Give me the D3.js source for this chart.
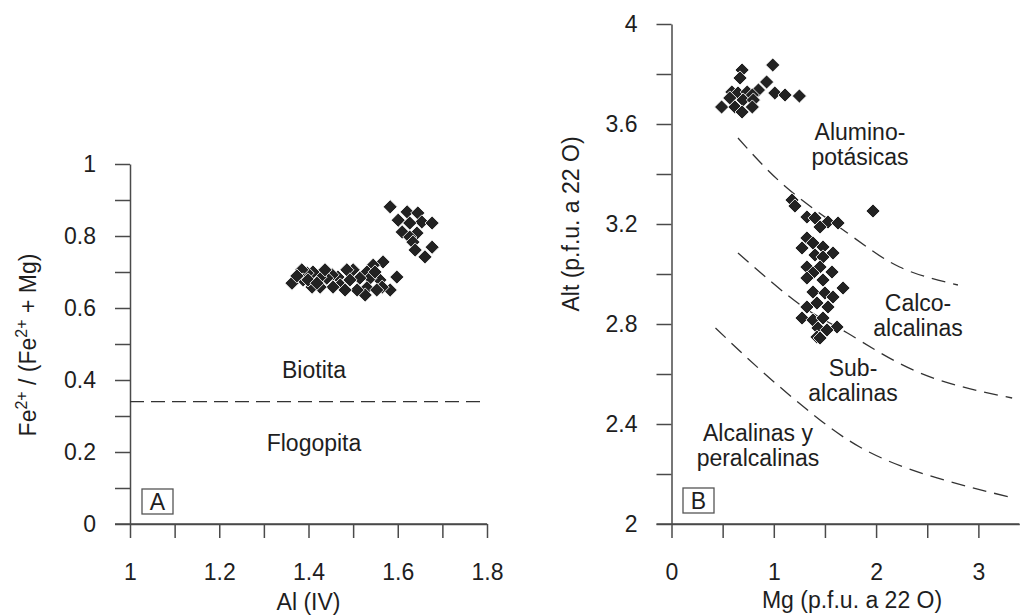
<!DOCTYPE html>
<html>
<head>
<meta charset="utf-8">
<script src="https://cdn.jsdelivr.net/npm/d3@7"></script>
<style>
  body { margin: 0; background: #fff; }
  svg text { font-family: "Liberation Sans", Arial, sans-serif; fill: #1e1e1e; }
</style>
</head>
<body>
<div id="chart"></div>
<script>
// Panel A : Al(IV) vs Fe2+/(Fe2+ + Mg)
const alIV = [1.583,1.621,1.645,1.601,1.654,1.677,1.627,1.610,1.643,1.627,1.634,1.677,1.639,1.661,
  1.567,1.545,1.531,1.500,1.486,1.466,1.453,1.441,1.426,1.410,1.397,1.385,1.598,1.560,1.538,1.515,
  1.493,1.471,1.531,1.583,1.565,1.553,1.527,1.509,1.482,1.455,1.426,1.408,1.388,1.399,1.419,1.363,
  1.374,1.437,1.549];
const feRatio = [0.881,0.867,0.864,0.844,0.839,0.836,0.836,0.811,0.808,0.797,0.783,0.769,0.761,0.742,
  0.728,0.719,0.700,0.706,0.706,0.686,0.692,0.683,0.686,0.700,0.697,0.706,0.686,0.678,0.683,0.683,
  0.678,0.664,0.656,0.650,0.658,0.650,0.636,0.650,0.650,0.658,0.658,0.658,0.678,0.678,0.669,0.669,
  0.689,0.706,0.700];
const biotitaLimit = 0.34;

// Panel B : Mg vs Alt
const mgB = [0.99,0.69,0.67,0.93,0.85,1.01,1.11,1.25,0.59,0.65,0.74,0.79,0.57,0.70,0.80,0.49,0.62,0.79,0.69,
  1.178,1.207,1.324,1.403,1.530,1.628,1.452,1.324,1.383,1.481,1.276,1.579,1.403,1.481,1.324,1.452,
  1.569,1.383,1.324,1.481,1.677,1.383,1.500,1.579,1.422,1.324,1.530,1.276,1.383,1.481,1.618,1.432,
  1.520,1.422,1.452,1.970];
const altB = [3.836,3.816,3.784,3.768,3.736,3.724,3.716,3.712,3.728,3.724,3.728,3.716,3.704,3.696,3.696,3.668,3.668,3.668,3.648,
  3.296,3.272,3.228,3.224,3.208,3.204,3.188,3.144,3.124,3.108,3.104,3.084,3.076,3.068,3.028,3.028,
  3.008,3.004,2.984,2.976,2.944,2.928,2.924,2.908,2.884,2.868,2.868,2.824,2.816,2.824,2.788,2.784,
  2.776,2.748,2.744,3.252];

// field boundaries (Mg, Alt)
const curveAlumino = [[0.65,3.544],[1.13,3.344],[1.72,3.164],[2.23,3.028],[2.80,2.956]];
const curveCalco = [[0.65,3.084],[1.26,2.876],[1.72,2.764],[2.43,2.604],[3.33,2.504]];
const curveAlcal = [[0.43,2.784],[0.87,2.616],[1.33,2.456],[1.84,2.308],[2.50,2.196],[3.34,2.104]];

const ticksA_x = d3.range(1, 1.801, 0.1), labelsA_x = [1, 1.2, 1.4, 1.6, 1.8];
const ticksA_y = d3.range(0, 1.001, 0.1), labelsA_y = [0, 0.2, 0.4, 0.6, 0.8, 1];
const ticksB_x = d3.range(0, 3.01, 0.5), labelsB_x = [0, 1, 2, 3];
const ticksB_y = d3.range(2, 4.001, 0.2), labelsB_y = [2, 2.4, 2.8, 3.2, 3.6, 4];

const W = 1020, H = 615;
const svg = d3.select("#chart").append("svg").attr("width", W).attr("height", H);

const axisColor = "#4a4a4a";
const fs = 23;

const drawAxes = (x, y, tx, ty, lx, ly) => {
  const near = (v, arr) => arr.some(a => Math.abs(a - v) < 1e-6);
  const xa = svg.append("g")
    .attr("transform", `translate(0,${y.range()[0]})`)
    .call(d3.axisBottom(x).tickValues(tx).tickSize(14).tickSizeOuter(0).tickPadding(26)
      .tickFormat(d => near(d, lx) ? d3.format("~g")(+d.toFixed(2)) : ""));
  const ya = svg.append("g")
    .attr("transform", `translate(${x.range()[0]},0)`)
    .call(d3.axisLeft(y).tickValues(ty).tickSize(15).tickSizeOuter(0).tickPadding(19)
      .tickFormat(d => near(d, ly) ? d3.format("~g")(+d.toFixed(2)) : ""));
  [xa, ya].forEach(g => {
    g.attr("font-size", fs);
    g.selectAll("path, line").attr("stroke", axisColor).attr("stroke-width", 1.5);
    g.selectAll("text").attr("font-size", fs).attr("font-family", "Liberation Sans, Arial, sans-serif").attr("fill", "#1e1e1e");
  });
  // horizontal axis reaches left to the tick end
  svg.append("line")
    .attr("x1", x.range()[0] - 15).attr("x2", x.range()[1])
    .attr("y1", y.range()[0]).attr("y2", y.range()[0])
    .attr("stroke", axisColor).attr("stroke-width", 1.5);
};

const diamond = d3.symbol().type(d3.symbolSquare).size(100);

const drawPoints = (x, y, xs, ys) => {
  svg.append("g").selectAll("path")
    .data(xs.map((v, i) => [v, ys[i]]))
    .enter().append("path")
    .attr("d", diamond)
    .attr("transform", d => `translate(${x(d[0])},${y(d[1])}) rotate(45)`)
    .attr("fill", "#222")
    .attr("stroke", "#fff")
    .attr("stroke-width", 0.8);
};

const boxLabel = (cx, cy, txt) => {
  svg.append("rect").attr("x", cx - 15.5).attr("y", cy - 12.5).attr("width", 31).attr("height", 25)
    .attr("fill", "none").attr("stroke", "#555").attr("stroke-width", 1.3);
  svg.append("text").attr("x", cx).attr("y", cy + 8.5).attr("text-anchor", "middle")
    .attr("font-size", fs).text(txt);
};

const label = (px, py, lines) => {
  const t = svg.append("text").attr("x", px).attr("y", py).attr("text-anchor", "middle").attr("font-size", fs);
  lines.forEach((l, i) => t.append("tspan").attr("x", px).attr("dy", i ? 25 : 0).text(l));
};

// ---------- Panel A ----------
const xA = d3.scaleLinear().domain([1, 1.8]).range([130, 487]);
const yA = d3.scaleLinear().domain([0, 1]).range([524, 164]);
drawAxes(xA, yA, ticksA_x, ticksA_y, labelsA_x, labelsA_y);

svg.append("line")
  .attr("x1", xA(1)).attr("x2", xA(1.8))
  .attr("y1", yA(biotitaLimit)).attr("y2", yA(biotitaLimit))
  .attr("stroke", "#333").attr("stroke-width", 1.3).attr("stroke-dasharray", "14,7");

drawPoints(xA, yA, alIV, feRatio);

label(314, 378, ["Biotita"]);
label(314, 451, ["Flogopita"]);
boxLabel(157.5, 501.5, "A");

svg.append("text").attr("x", xA(1.4)).attr("y", 610).attr("text-anchor", "middle")
  .attr("font-size", fs).text("Al (IV)");

const tA = svg.append("text").attr("transform", "translate(36,345) rotate(-90)")
  .attr("text-anchor", "middle").attr("font-size", fs);
tA.append("tspan").text("Fe");
tA.append("tspan").attr("font-size", 16).attr("dy", -9).text("2+");
tA.append("tspan").attr("dy", 9).text(" / (Fe");
tA.append("tspan").attr("font-size", 16).attr("dy", -9).text("2+");
tA.append("tspan").attr("dy", 9).text(" +  Mg)");

// ---------- Panel B ----------
const xB = d3.scaleLinear().domain([0, 3.4]).range([671.5, 1019.3]);
const yB = d3.scaleLinear().domain([2, 4]).range([524, 24]);
drawAxes(xB, yB, ticksB_x, ticksB_y, labelsB_x, labelsB_y);

const line = d3.line().x(d => xB(d[0])).y(d => yB(d[1])).curve(d3.curveNatural);
[curveAlumino, curveCalco, curveAlcal].forEach(c => {
  svg.append("path").attr("d", line(c)).attr("fill", "none")
    .attr("stroke", "#333").attr("stroke-width", 1.3).attr("stroke-dasharray", "14,8");
});

drawPoints(xB, yB, mgB, altB);

label(860, 140, ["Alumino-", "potásicas"]);
label(918, 311, ["Calco-", "alcalinas"]);
label(853, 376, ["Sub-", "alcalinas"]);
label(758, 441, ["Alcalinas y", "peralcalinas"]);
boxLabel(698.5, 500.5, "B");

svg.append("text").attr("x", 852).attr("y", 608).attr("text-anchor", "middle")
  .attr("font-size", fs).text("Mg (p.f.u. a 22 O)");

svg.append("text").attr("transform", "translate(579,224) rotate(-90)")
  .attr("text-anchor", "middle").attr("font-size", fs).text("Alt (p.f.u. a 22 O)");
</script>
</body>
</html>
